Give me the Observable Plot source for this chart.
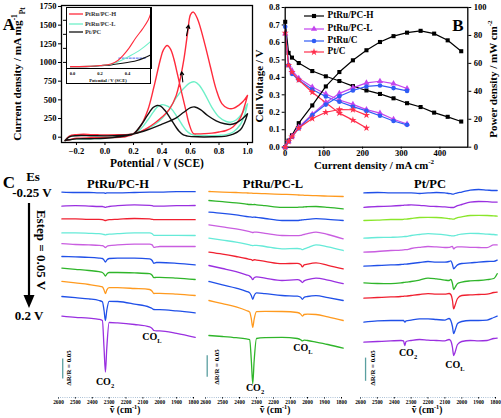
<!DOCTYPE html>
<html><head><meta charset="utf-8">
<script src="https://cdn.jsdelivr.net/npm/d3@7"></script>
<script src="https://cdn.jsdelivr.net/npm/@observablehq/plot@0.6"></script>
<style>
html,body{margin:0;padding:0;background:#fff;}
#fig{position:relative;width:501px;height:418px;overflow:hidden;background:#fff;font-family:"Liberation Serif","Times New Roman",serif;font-weight:bold;color:#000;}
.lbl{position:absolute;white-space:nowrap;line-height:1;}
.lbl sup,.lbl sub{font-size:65%;line-height:0;}
</style></head><body><div id="fig"></div>
<script>
// ---------------- Panel A: cyclic voltammograms ----------------
const cvNames = ["PtRu/PC-H", "PtRu/PC-L", "Pt/PC"];
const cvColors = ["#ff2b3c", "#6ff0c8", "#111111"];
const hFwdV = [-0.28,-0.25,-0.2,-0.15,-0.1,-0.05,0.0,0.1,0.2,0.25,0.3,0.35,0.4,0.45,0.5,0.55,0.58,0.6,0.62,0.65,0.7,0.74,0.78,0.82,0.86,0.9,0.94,0.97,1.0];
const hFwdI = [-45,15,35,40,35,32,30,32,45,75,125,190,270,370,560,1000,1400,1640,1675,1580,1250,940,640,450,390,385,430,480,560];
const hBwdV = [1.0,0.98,0.95,0.9,0.85,0.8,0.75,0.7,0.65,0.62,0.59,0.565,0.54,0.51,0.483,0.46,0.436,0.41,0.39,0.343,0.3,0.25,0.2,0.15,0.1,0.0,-0.1,-0.2,-0.25,-0.28];
const hBwdI = [560,420,260,140,90,70,55,48,45,50,180,380,580,830,1050,1180,1228,1170,1050,670,360,150,45,10,0,-5,-8,-15,-35,-45];
const lFwdV = [-0.28,-0.25,-0.2,-0.1,0.0,0.1,0.2,0.25,0.3,0.35,0.4,0.45,0.5,0.55,0.6,0.63,0.66,0.7,0.75,0.8,0.85,0.88,0.92,0.96,1.0];
const lFwdI = [-45,10,25,25,22,25,45,75,115,170,250,370,530,650,730,740,700,580,400,270,210,200,230,310,447];
const lBwdV = [1.0,0.98,0.95,0.9,0.85,0.8,0.7,0.62,0.6,0.57,0.54,0.5,0.46,0.42,0.4,0.37,0.34,0.3,0.25,0.2,0.1,0.0,-0.1,-0.2,-0.25,-0.28];
const lBwdI = [447,300,170,70,35,25,22,30,45,90,170,290,390,430,435,410,340,230,110,45,5,-15,-20,-22,-35,-45];
const pFwdV = [-0.28,-0.25,-0.2,-0.1,0.0,0.1,0.2,0.3,0.4,0.5,0.55,0.6,0.63,0.67,0.72,0.78,0.84,0.88,0.92,0.96,1.0];
const pFwdI = [-45,5,20,20,18,22,45,100,175,260,330,395,405,370,290,220,180,170,190,240,313];
const pBwdV = [1.0,0.98,0.95,0.9,0.85,0.75,0.65,0.58,0.55,0.52,0.5,0.46,0.42,0.39,0.366,0.34,0.3,0.26,0.22,0.2,0.1,0.0,-0.1,-0.2,-0.25,-0.28];
const pBwdI = [313,200,100,40,15,5,5,15,30,80,130,250,360,415,425,400,300,180,80,45,5,-15,-20,-22,-35,-45];
const cvTicksX = [-0.2,0,0.2,0.4,0.6,0.8,1.0];
const cvTicksY = [0,250,500,750,1000,1250,1500,1750];
const arrowStartV = [0.572, 0.546];
const arrowStartI = [1360, 740];
const arrowEndV = [0.587, 0.538];
const arrowEndI = [1500, 875];

// inset (onset region)
const insHV = [-0.015,0.1,0.2,0.28,0.33,0.37,0.41,0.46,0.51,0.55,0.572];
const insHY = [0.03,0.035,0.05,0.075,0.13,0.22,0.33,0.5,0.65,0.79,0.92];
const insLV = [-0.015,0.1,0.2,0.28,0.337,0.42,0.495,0.572];
const insLY = [0.03,0.035,0.05,0.07,0.115,0.21,0.31,0.45];
const insPV = [-0.015,0.1,0.2,0.28,0.337,0.47,0.572];
const insPY = [0.028,0.03,0.045,0.06,0.077,0.13,0.225];
const insOnsetV = [0.337, 0.53];
const insOnsetY = [0.17, 0.17];

// ---------------- Panel B: fuel cell polarisation ----------------
const fcNames = ["PtRu/PC-H", "PtRu/PC-L", "PtRu/C", "Pt/C"];
const fcColors = ["#000000", "#c444ee", "#2f5cf5", "#ff2e4c"];
const fcSymbols = ["square", "triangle", "circle", "star"];
const currH = [0,8.75,17.5,35,70,105,140,175,210,245,280,315,350,385,420,455];
const voltH = [0.718,0.54,0.513,0.482,0.436,0.406,0.379,0.35,0.325,0.305,0.28,0.252,0.23,0.198,0.174,0.147];
const powH  = [0,4.7,8.5,17.2,29.9,43.5,53.8,62.2,69.4,75.3,79.5,82,83.3,81.3,76.5,68.7];
const currL = [0,8.75,17.5,35,70,105,140,175,210,245,280,315];
const voltL = [0.65,0.47,0.44,0.395,0.345,0.305,0.27,0.245,0.215,0.195,0.16,0.133];
const powL  = [0,4.1,7.7,14.4,23.6,32,38.5,42.5,46,47.2,45.5,42];
const currC = [0,8.75,17.5,35,70,105,140,175,210,245,280,315];
const voltC = [0.69,0.47,0.42,0.385,0.33,0.29,0.26,0.232,0.208,0.18,0.15,0.128];
const powC  = [0,4.1,7.3,13.5,23,30.5,36.5,40.6,43.5,44.2,42.3,40.3];
const currPt = [0,8.75,17.5,35,70,105,140,175,210];
const voltPt = [0.655,0.47,0.43,0.385,0.315,0.255,0.195,0.155,0.11];
const powPt  = [0,4.1,7.5,13.7,20.5,25,27,26.8,23];
const fcTicksX = [0,100,200,300,400];
const fcTicksV = [0,0.1,0.2,0.3,0.4,0.5,0.6,0.7,0.8];
const fcTicksP = [0,20,40,60,80,100];

// ---------------- Panel C: in-situ FTIR spectra (ΔR/R ×100, stacked) ----------------
const specTicks = [2600,2500,2400,2300,2200,2100,2000,1900,1800];
const wnC1 = [2580,2500,2420,2360,2340,2330,2322,2314,2300,2250,2150,2060,2045,2035,2020,2000,1900,1790];
const c1_1 = [52.1,52.0,52.0,51.9,51.9,51.9,51.8,51.9,51.9,51.9,52.0,52.1,52.1,52.1,52.1,52.1,52.2,52.2];
const c1_2 = [48.6,48.7,48.6,48.5,48.5,48.4,48.3,48.4,48.5,48.7,48.9,48.8,48.7,48.6,48.6,48.6,48.7,48.75];
const c1_3 = [45.4,45.4,45.3,45.3,45.2,45.1,45.0,45.1,45.2,45.3,45.5,45.4,45.3,45.2,45.2,45.2,45.2,45.2];
const c1_4 = [41.9,41.9,41.8,41.7,41.6,41.5,41.4,41.5,41.6,41.7,41.9,41.9,41.7,41.3,41.3,41.3,41.3,41.25];
const c1_5 = [39.2,39.0,38.9,38.8,38.7,38.5,38.25,38.5,38.7,38.9,39.1,39.1,38.9,38.3,38.4,38.5,38.5,38.5];
const c1_6 = [36.0,35.9,35.8,35.6,35.5,35.1,34.6,35.1,35.5,35.6,35.6,35.4,35.0,34.3,34.5,34.5,34.3,33.9];
const c1_7 = [33.1,32.8,32.5,32.2,32.0,31.6,31.1,31.6,32.0,32.0,31.9,31.7,31.3,30.7,30.8,30.8,30.6,30.25];
const c1_8 = [29.8,29.4,29.0,28.6,28.4,27.6,26.7,27.6,28.2,28.2,28.0,27.75,27.3,26.75,26.8,26.8,26.6,26.25];
const c1_9 = [26.0,25.7,25.4,25.0,24.7,22.5,20.0,22.5,24.8,24.75,24.1,23.3,23.0,22.75,22.7,22.7,22.4,21.9];
const c1_10 = [21.1,20.8,20.6,20.3,20.0,13.0,7.1,13.0,19.5,19.4,19.0,18.4,18.0,17.5,17.4,17.4,16.8,15.8];

const wnC2 = [2580,2500,2420,2360,2340,2330,2322,2314,2300,2250,2150,2060,2040,2030,2020,2000,1950,1880,1790];
const c2_1 = [52.25,52.1,52.0,51.9,51.85,51.85,51.8,51.8,51.8,51.7,51.55,51.4,51.35,51.35,51.3,51.3,51.2,51.1,51.0];
const c2_2 = [50.0,49.7,49.4,49.1,49.0,49.0,48.95,49.0,48.9,48.7,48.3,48.3,48.35,48.35,48.4,48.45,48.5,48.3,47.9];
const c2_3 = [47.1,46.8,46.4,46.0,45.9,45.85,45.8,45.85,45.8,45.5,45.0,45.0,45.1,45.15,45.2,45.3,45.45,45.3,45.0];
const c2_4 = [43.9,43.4,42.9,42.4,42.2,42.1,42.0,42.1,42.1,41.8,41.25,41.2,41.3,41.4,41.5,41.7,42.1,41.5,40.4];
const c2_5 = [40.6,40.1,39.6,39.1,38.9,38.8,38.7,38.8,38.8,38.5,37.9,38.0,37.9,37.7,37.9,38.2,38.9,38.4,37.5];
const c2_6 = [37.1,36.6,36.0,35.5,35.3,35.2,35.0,35.2,35.1,34.8,34.2,34.3,34.0,33.4,33.9,34.1,34.4,33.8,32.9];
const c2_7 = [33.75,33.0,32.2,31.4,31.1,30.7,30.2,30.7,30.9,30.6,30.0,30.2,29.9,29.5,29.9,30.2,30.6,30.1,29.2];
const c2_8 = [29.75,28.9,28.1,27.3,26.9,26.2,25.3,26.2,26.9,26.7,26.25,26.1,25.8,25.3,25.8,26.0,26.2,25.7,25.0];
const c2_9 = [25.0,24.2,23.4,22.5,22.1,20.3,18.3,20.3,22.2,22.3,22.25,22.0,21.6,21.1,21.5,21.6,21.5,20.9,20.0];
const c2_10 = [16.25,16.0,15.7,15.4,15.25,9.7,4.2,9.8,15.5,15.7,15.8,15.5,15.2,14.9,15.1,15.0,14.6,14.0,13.1];

const wnC3 = [2580,2500,2420,2360,2345,2338,2330,2300,2250,2200,2150,2100,2075,2065,2055,2048,2040,2025,2000,1950,1900,1850,1810,1790];
const c3_1 = [51.9,52.0,51.9,51.9,51.9,51.9,51.9,51.9,51.75,51.9,52.0,51.9,51.75,51.7,51.6,51.6,51.75,51.9,52.1,52.6,52.75,52.6,52.5,52.5];
const c3_2 = [48.3,48.5,48.6,48.75,48.8,48.85,48.85,48.9,48.8,48.6,48.5,48.4,48.3,48.25,48.25,48.25,48.4,48.7,49.0,49.6,49.75,49.7,49.6,49.6];
const c3_3 = [45.0,45.1,45.25,45.25,45.3,45.35,45.35,45.5,45.75,45.8,45.75,45.6,45.45,45.4,45.35,45.35,45.45,45.7,45.9,46.25,46.3,46.25,46.15,46.1];
const c3_4 = [40.6,40.75,40.8,40.9,40.95,41.0,41.0,41.25,41.5,41.7,41.6,41.4,41.25,41.2,41.15,41.15,41.2,41.4,41.6,41.8,41.75,41.6,41.5,41.4];
const c3_5 = [37.1,37.25,37.5,37.6,37.65,37.7,37.7,38.0,38.3,38.5,38.4,38.25,38.3,38.4,38.5,37.9,38.2,38.4,38.4,38.3,38.25,38.2,38.9,38.9];
const c3_6 = [33.6,33.75,33.9,34.0,34.05,34.1,34.1,34.25,34.5,34.75,34.6,34.6,34.75,34.9,34.0,32.9,33.25,33.9,34.25,34.4,34.6,34.75,34.8,35.1];
const c3_7 = [29.4,29.25,29.2,29.4,29.5,29.55,29.6,29.75,30.1,30.6,30.4,30.1,30.0,30.25,29.25,27.75,28.25,29.25,29.6,29.9,30.0,30.2,30.5,31.7];
const c3_8 = [25.6,25.75,25.9,26.0,26.05,26.1,26.1,26.25,26.5,26.7,26.6,26.6,26.75,26.5,25.0,22.9,23.75,25.5,26.25,26.4,26.5,26.6,27.0,27.1];
const c3_9 = [19.6,19.9,20.0,20.0,20.0,19.6,19.9,20.1,20.4,20.4,20.25,20.1,20.5,20.0,18.5,16.7,17.5,19.25,19.75,20.0,20.0,20.1,20.75,21.1];
const c3_10 = [14.6,14.75,14.9,15.0,14.9,13.75,14.75,15.0,15.25,15.1,15.0,14.9,15.25,14.9,13.25,11.25,12.0,14.0,14.75,15.0,14.9,15.0,15.5,15.6];

const BLUE="#2050e8", PURPLE="#9a30e0", RED="#f02030", CYAN="#66ead8", MAGENTA="#c95ee0", GREEN="#2fb52a", ORANGE="#ff9a1f", LIME="#8ae62a";
const colorsC1 = [BLUE,PURPLE,RED,CYAN,MAGENTA,BLUE,GREEN,ORANGE,BLUE,PURPLE];
const colorsC2 = [ORANGE,GREEN,BLUE,MAGENTA,CYAN,RED,PURPLE,BLUE,ORANGE,GREEN];
const colorsC3 = [BLUE,PURPLE,LIME,CYAN,MAGENTA,BLUE,GREEN,RED,BLUE,PURPLE];
const scaleBarWn = [2575, 2590, 2570];
const scaleBarLo = [5.4, 5.8, 4.8];
const scaleBarHi = [10.4, 11.2, 10.6];

// ---------------- helpers ----------------
const fig = document.getElementById("fig");
const serif = '"Liberation Serif","Times New Roman",serif';
function place(el, left, top) {
  el.style.position = "absolute"; el.style.left = left + "px"; el.style.top = top + "px";
  el.style.maxWidth = "none"; fig.appendChild(el); return el;
}
function label(html, x, y, size, rot = 0, color = "#000", weight = "bold") {
  const d = document.createElement("div");
  d.className = "lbl"; d.innerHTML = html;
  d.style.left = x + "px"; d.style.top = y + "px"; d.style.fontSize = size + "px";
  d.style.color = color; d.style.fontWeight = weight;
  d.style.transform = `translate(-50%,-50%) rotate(${rot}deg)`;
  fig.appendChild(d); return d;
}
const zip = (xs, ys, kx, ky) => xs.map((v, i) => ({[kx]: v, [ky]: ys[i]}));
const st = (size, bg = "transparent") => ({fontFamily: serif, fontWeight: "bold", fontSize: size + "px", background: bg, overflow: "visible"});

// ---------------- Panel A ----------------
const loops = [
  zip(hFwdV, hFwdI, "V", "I").concat(zip(hBwdV, hBwdI, "V", "I")),
  zip(lFwdV, lFwdI, "V", "I").concat(zip(lBwdV, lBwdI, "V", "I")),
  zip(pFwdV, pFwdI, "V", "I").concat(zip(pBwdV, pBwdI, "V", "I"))
];
const arrowsA = arrowStartV.map((v, i) => ({x1: v, y1: arrowStartI[i], x2: arrowEndV[i], y2: arrowEndI[i]}));
const plotA = Plot.plot({
  width: 255, height: 172, marginLeft: 61, marginRight: 3, marginTop: 5, marginBottom: 30,
  style: st(8.5),
  x: {domain: [-0.305, 1.035], ticks: cvTicksX, tickFormat: d3.format(".1f"), tickSize: 3, tickPadding: 2, label: null},
  y: {domain: [-71, 1763], ticks: cvTicksY, tickFormat: d => String(d), tickSize: 3, tickPadding: 2, label: null},
  marks: [
    Plot.line(loops[1], {x: "V", y: "I", stroke: cvColors[1], strokeWidth: 1.4, curve: "catmull-rom"}),
    Plot.line(loops[0], {x: "V", y: "I", stroke: cvColors[0], strokeWidth: 1.4, curve: "catmull-rom"}),
    Plot.line(loops[2], {x: "V", y: "I", stroke: cvColors[2], strokeWidth: 1.4, curve: "catmull-rom"}),
    Plot.arrow(arrowsA, {x1: "x1", y1: "y1", x2: "x2", y2: "y2", stroke: "#000", strokeWidth: 1.1, headLength: 5}),
    Plot.frame({stroke: "#000", strokeWidth: 1.3})
  ]
});
place(plotA, 0, 0);

// inset
const plotIn = Plot.plot({
  width: 85, height: 77, marginLeft: 0, marginRight: 0, marginTop: 0, marginBottom: 16,
  style: st(4.5, "#fff"),
  x: {domain: [-0.044, 0.575], ticks: [0, 0.2, 0.4], tickFormat: d3.format(".1f"), tickSize: 0, tickPadding: 3, label: null},
  y: {domain: [0, 1], ticks: [0.1, 0.33, 0.56, 0.79], tickFormat: () => "", tickSize: 3, tickPadding: 0, label: null},
  marks: [
    Plot.line(zip(insOnsetV, insOnsetY, "V", "y"), {x: "V", y: "y", stroke: "#3355ee", strokeWidth: 0.9, strokeDasharray: "2,1.5"}),
    Plot.line(zip(insPV, insPY, "V", "y"), {x: "V", y: "y", stroke: cvColors[2], strokeWidth: 1.1, curve: "catmull-rom"}),
    Plot.line(zip(insLV, insLY, "V", "y"), {x: "V", y: "y", stroke: cvColors[1], strokeWidth: 1.1, curve: "catmull-rom"}),
    Plot.line(zip(insHV, insHY, "V", "y"), {x: "V", y: "y", stroke: cvColors[0], strokeWidth: 1.1, curve: "catmull-rom"}),
    Plot.frame({stroke: "#000", strokeWidth: 1})
  ]
});
place(plotIn, 66, 7);
const box = document.createElement("div");
box.style.cssText = "position:absolute;left:65.5px;top:6.5px;width:85px;height:77px;border:1px solid #000;box-sizing:border-box;pointer-events:none;";
fig.appendChild(box);
// inset legend
cvNames.forEach((n, i) => {
  const y = [14, 23.5, 32][i];
  const sw = document.createElementNS("http://www.w3.org/2000/svg", "svg");
  sw.setAttribute("width", 14); sw.setAttribute("height", 4);
  sw.innerHTML = `<line x1="0" y1="2" x2="14" y2="2" stroke="${cvColors[i]}" stroke-width="1.3"/>`;
  sw.style.cssText = `position:absolute;left:68.5px;top:${y - 2}px;`;
  fig.appendChild(sw);
  const t = label(n, 85, y, 6.3, 0, "#333");
  t.style.transform = "translate(0,-50%)";
});
label("Potential / V (SCE)", 108, 80.5, 4.6);

label("A", 9, 24, 17);
label("Potential / V (SCE)", 157, 163.5, 11.5);
label("Current density / mA mg<sup>-1</sup><sub>Pt</sub>", 18, 74, 11.3, -90);

// ---------------- Panel B ----------------
const fcSets = [
  {c: currH, v: voltH, p: powH}, {c: currL, v: voltL, p: powL},
  {c: currC, v: voltC, p: powC}, {c: currPt, v: voltPt, p: powPt}
];
const bMarksV = [], bMarksP = [];
fcSets.forEach((s, i) => {
  const dv = zip(s.c, s.v, "j", "v"), dp = zip(s.c, s.p, "j", "p");
  bMarksV.push(Plot.line(dv, {x: "j", y: "v", stroke: fcColors[i], strokeWidth: 1.2}));
  bMarksV.push(Plot.dot(dv, {x: "j", y: "v", fill: fcColors[i], symbol: fcSymbols[i], r: 2.3}));
  bMarksP.push(Plot.line(dp, {x: "j", y: "p", stroke: fcColors[i], strokeWidth: 1.2}));
  bMarksP.push(Plot.dot(dp, {x: "j", y: "p", fill: fcColors[i], symbol: fcSymbols[i], r: 2.3}));
});
const bLayout = {width: 251, height: 172, marginLeft: 34.7, marginRight: 33.7, marginTop: 7, marginBottom: 25.3};
const plotB1 = Plot.plot({
  ...bLayout, style: st(8.5),
  x: {domain: [0, 472], ticks: fcTicksX, tickFormat: d => String(d), tickSize: 2, tickPadding: 0.5, label: null},
  y: {domain: [0, 0.8], ticks: fcTicksV, tickFormat: d3.format(".1f"), tickSize: 3, tickPadding: 2.5, label: null},
  marks: [...bMarksV, Plot.frame({stroke: "#000", strokeWidth: 1.3})]
});
place(plotB1, 250, 0);
const plotB2 = Plot.plot({
  ...bLayout, style: st(8.5),
  x: {domain: [0, 472], axis: null},
  y: {domain: [0, 100], axis: "right", ticks: fcTicksP, tickFormat: d => String(d), tickSize: 3, tickPadding: 3, label: null},
  marks: bMarksP
});
place(plotB2, 250, 0);
// legend B
fcNames.forEach((n, i) => {
  const y = [15.5, 28.5, 40.5, 52][i];
  const sw = document.createElementNS("http://www.w3.org/2000/svg", "svg");
  sw.setAttribute("width", 20); sw.setAttribute("height", 8);
  const sym = {square: d3.symbolSquare, triangle: d3.symbolTriangle, circle: d3.symbolCircle, star: d3.symbolStar}[fcSymbols[i]];
  sw.innerHTML = `<line x1="0" y1="4" x2="20" y2="4" stroke="${fcColors[i]}" stroke-width="1.2"/>` +
    `<path transform="translate(10,4)" d="${d3.symbol(sym, 17)()}" fill="${fcColors[i]}"/>`;
  sw.style.cssText = `position:absolute;left:304px;top:${y - 4}px;overflow:visible;`;
  fig.appendChild(sw);
  const t = label(n, 327.5, y, 9.3);
  t.style.transform = "translate(0,-50%)";
});
label("B", 458, 25, 17);
label("Current density / mA cm<sup>-2</sup>", 374, 164.5, 10.8);
label("Cell Voltage / V", 258.5, 86, 11, -90);
label("Power density / mW cm<sup>-2</sup>", 493, 79, 11, -90);

// ---------------- Panel C ----------------
function specPlot(left, width, mL, mR, wn, curves, colors, k) {
  const marks = curves.map((c, i) => Plot.line(zip(wn, c, "w", "r"), {x: "w", y: "r", stroke: colors[i], strokeWidth: 1.3, curve: "monotone-x"}));
  marks.push(Plot.ruleY([0.75], {stroke: "#7f9fc0", strokeWidth: 0.8, strokeDasharray: "0.8,1.4"}));
  marks.push(Plot.ruleX([{w: scaleBarWn[k], lo: scaleBarLo[k], hi: scaleBarHi[k]}], {x: "w", y1: "lo", y2: "hi", stroke: "#5a9fa0", strokeWidth: 1.3}));
  const p = Plot.plot({
    width, height: 233, marginLeft: mL, marginRight: mR, marginTop: 0, marginBottom: 21,
    style: st(5.3),
    x: {domain: [2600, 1800], ticks: specTicks, tickFormat: d => String(d), tickSize: 1.5, tickPadding: 1, label: null},
    y: {domain: [0.75, 53.75], axis: null},
    marks
  });
  place(p, left, 185);
}
specPlot(45, 160, 13, 12, wnC1, [c1_1,c1_2,c1_3,c1_4,c1_5,c1_6,c1_7,c1_8,c1_9,c1_10], colorsC1, 0);
specPlot(195, 160, 10, 14, wnC2, [c2_1,c2_2,c2_3,c2_4,c2_5,c2_6,c2_7,c2_8,c2_9,c2_10], colorsC2, 1);
specPlot(350, 151, 10, 6, wnC3, [c3_1,c3_2,c3_3,c3_4,c3_5,c3_6,c3_7,c3_8,c3_9,c3_10], colorsC3, 2);

label("C", 9, 182, 17);
label("PtRu/PC-H", 118, 184, 12.5);
label("PtRu/PC-L", 273, 184, 12.5);
label("Pt/PC", 430, 184, 12.5);
label("Es", 33, 176, 13);
label("-0.25 V", 32, 192, 13);
label("Estep = 0.05 V", 40.5, 250, 13, 90);
label("0.2 V", 29, 315, 13);
const arr = document.createElementNS("http://www.w3.org/2000/svg", "svg");
arr.setAttribute("width", 20); arr.setAttribute("height", 110);
arr.innerHTML = '<line x1="10" y1="0" x2="10" y2="96" stroke="#000" stroke-width="2.2"/><polygon points="4.5,92 15.5,92 10,105" fill="#000"/>';
arr.style.cssText = "position:absolute;left:18.5px;top:203px;";
fig.appendChild(arr);

[[68.5, 368], [216.7, 367], [373.3, 368]].forEach(([x, y]) => label("ΔR/R = 0.05", x, y, 6.8, -90));
label("CO<sub>2</sub>", 105, 382, 10);
label("CO<sub>L</sub>", 152, 337, 10);
label("CO<sub>2</sub>", 255, 388, 10);
label("CO<sub>L</sub>", 303, 348, 10);
label("CO<sub>2</sub>", 408, 353, 10);
label("CO<sub>L</sub>", 455, 365, 10);
[125, 275, 427].forEach(x => label("ṽ (cm<sup>-1</sup>)", x, 411, 9.5));
</script></body></html>
